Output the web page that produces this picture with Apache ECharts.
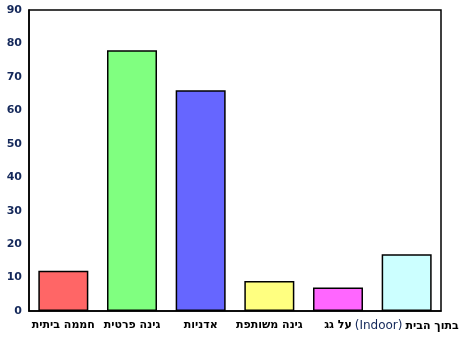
<!DOCTYPE html>
<html><head><meta charset="utf-8">
<script src="https://cdn.jsdelivr.net/npm/echarts@6/dist/echarts.min.js"></script>
<style>html,body{margin:0;padding:0;background:#fff}#c{width:469px;height:339px}</style>
</head><body><div id="c"></div>
<script>
const categories = ["חממה ביתית", "גינה פרטית", "אדניות", "גינה משותפת", "על גג", "בתוך הבית (Indoor)"];
const values = [12, 78, 66, 9, 7, 17];
const barColors = ["#ff6666", "#80ff80", "#6666ff", "#ffff80", "#ff66ff", "#ccffff"];
const yTicks = { min: 0, max: 90, interval: 10 };

function fmtLabel(v) {
  const m = v.match(/^(.*) (\(.*\))$/);
  if (m) return '{en|' + m[2] + '}{he|' + m[1] + '}';
  return '{he|' + v + '}';
}

const chart = echarts.init(document.getElementById('c'), null, { renderer: 'canvas' });
chart.setOption({
  animation: false,
  backgroundColor: '#fff',
  grid: { left: 29, right: 28, top: 10, bottom: 28, show: true, borderColor: '#000', borderWidth: 1.5, backgroundColor: 'transparent' },
  xAxis: {
    type: 'category', data: categories,
    axisLine: { show: true, lineStyle: { color: '#000', width: 1.5 } },
    axisTick: { show: false },
    axisLabel: {
      interval: 0, margin: 9,
      formatter: fmtLabel,
      rich: {
        he: { color: '#000', fontFamily: 'DejaVu Sans', fontWeight: 'bold', fontSize: 11 },
        en: { color: '#14285a', fontFamily: 'DejaVu Sans', fontWeight: 'normal', fontSize: 12, padding: [0, 3, 0, 0] }
      }
    }
  },
  yAxis: {
    type: 'value', min: yTicks.min, max: yTicks.max, interval: yTicks.interval,
    axisLine: { show: true, lineStyle: { color: '#000', width: 1.5 } },
    axisTick: { show: false },
    splitLine: { show: false },
    axisLabel: { margin: 7, color: '#14285a', fontFamily: 'DejaVu Sans', fontWeight: 'bold', fontSize: 11 }
  },
  series: [{
    type: 'bar',
    data: values.map((v, i) => ({ value: v, itemStyle: { color: barColors[i] } })),
    barWidth: 50,
    itemStyle: { borderColor: '#000', borderWidth: 1.5 }
  }]
});
</script></body></html>
